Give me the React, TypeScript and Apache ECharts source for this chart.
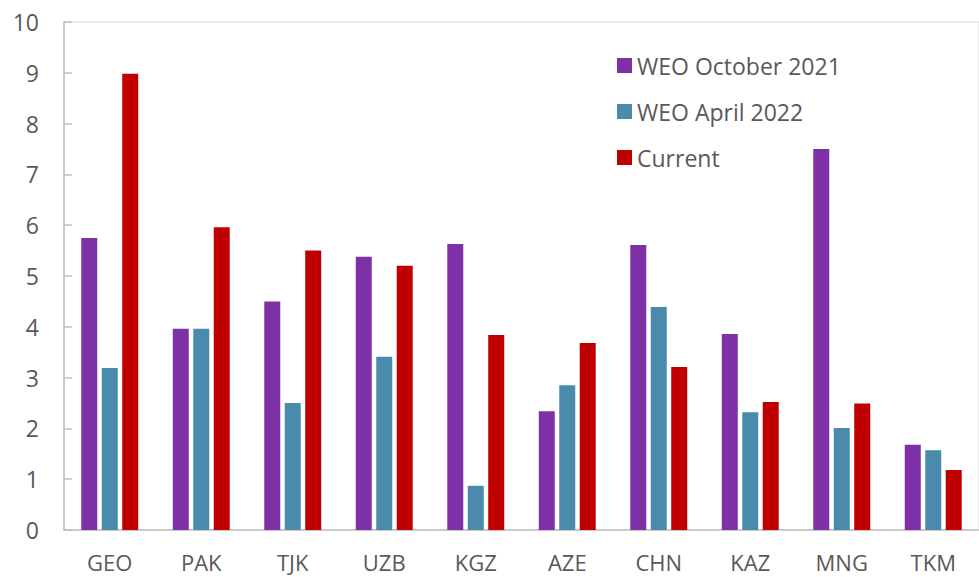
import React, { useEffect, useRef } from "react";
import * as echarts from "echarts";

const categories = ["GEO", "PAK", "TJK", "UZB", "KGZ", "AZE", "CHN", "KAZ", "MNG", "TKM"];
const weoOct2021 = [5.75, 3.96, 4.5, 5.38, 5.63, 2.34, 5.61, 3.86, 7.5, 1.68];
const weoApr2022 = [3.19, 3.96, 2.5, 3.41, 0.87, 2.85, 4.39, 2.32, 2.01, 1.57];
const current = [8.98, 5.96, 5.5, 5.2, 3.84, 3.68, 3.21, 2.52, 2.49, 1.18];
const seriesNames = ["WEO October 2021", "WEO April 2022", "Current"];
const colors = ["#7E30A6", "#4A8BAD", "#C00000"];

export default function App() {
  const ref = useRef<HTMLDivElement>(null);
  useEffect(() => {
    if (!ref.current) return;
    const chart = echarts.init(ref.current, null, { renderer: "svg" });
    const font = "'Open Sans', 'Segoe UI', sans-serif";
    const textColor = "#595959";
    const axisColor = "#BFBFBF";
    const data = [weoOct2021, weoApr2022, current];
    chart.setOption({
      animation: false,
      textStyle: { fontFamily: font },
      grid: {
        left: 64,
        top: 22,
        right: -5,
        bottom: 47,
        show: true,
        borderColor: "#D9D9D9",
        borderWidth: 1,
      },
      legend: {
        orient: "vertical",
        left: 612,
        top: 49,
        itemWidth: 15,
        itemHeight: 15,
        itemGap: 23,
        icon: "rect",
        textStyle: { fontSize: 23, color: textColor, fontFamily: font, lineHeight: 23 },
        data: seriesNames,
      },
      xAxis: {
        type: "category",
        data: categories,
        axisLine: { lineStyle: { color: axisColor, width: 1.5 } },
        axisTick: { inside: true, length: 8, lineStyle: { color: axisColor, width: 1.5 } },
        axisLabel: { fontSize: 22, lineHeight: 22, color: textColor, margin: 21, fontFamily: font },
      },
      yAxis: {
        type: "value",
        min: 0,
        max: 10,
        interval: 1,
        axisLine: { show: true, lineStyle: { color: axisColor, width: 1.5 } },
        axisTick: { show: true, inside: true, length: 8, lineStyle: { color: axisColor, width: 1.5 } },
        splitLine: { show: false },
        axisLabel: { fontSize: 23, color: textColor, margin: 25, fontFamily: font },
      },
      series: seriesNames.map((name, i) => ({
        name,
        type: "bar",
        data: data[i],
        barWidth: 16,
        barGap: "28%",
        itemStyle: { color: colors[i] },
      })),
    });
    return () => chart.dispose();
  }, []);
  return (
    <div
      ref={ref}
      style={{ position: "absolute", left: 0, top: 0, width: 979, height: 577, background: "#fff" }}
    />
  );
}
